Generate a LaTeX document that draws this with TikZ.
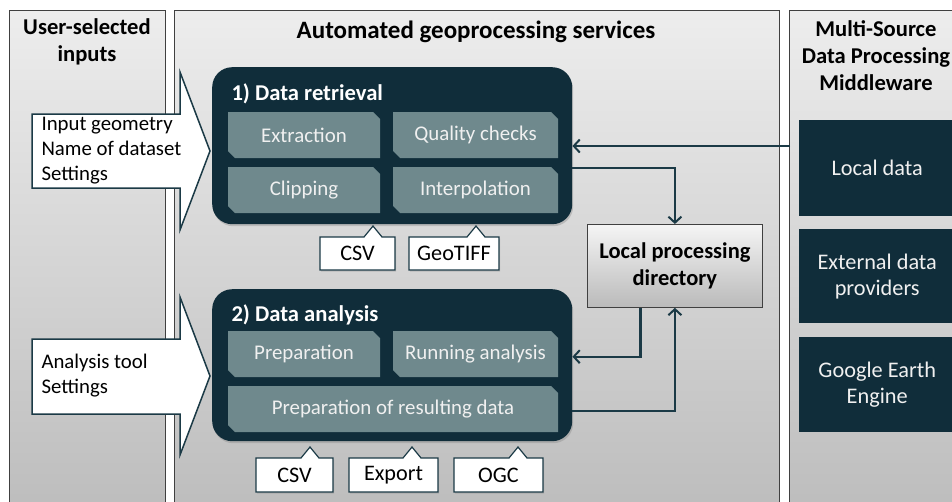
\documentclass[tikz,border=0pt]{standalone}
\usepackage{fontspec}
\setmainfont{Carlito}
\usetikzlibrary{arrows.meta,shadows}
\definecolor{darkblk}{HTML}{102D3A}
\definecolor{subfill}{HTML}{6F898D}
\definecolor{conncol}{HTML}{1B3A46}
\definecolor{framecol}{HTML}{404040}
\newcommand\snipbox[6]{%
  \fill[subfill] (#1,#2) -- ({#3-7},#2) -- (#3,{#2+7}) -- (#3,#4) -- ({#1+7},#4) -- (#1,{#4-7}) -- cycle;
  \node[subtext] (#5) at ({(#1+#3)/2},{(#2+#4)/2}) {#6};}
\newcommand\callout[8]{%
  \filldraw[callbox] (#1,#2) -- ({#5-9},#2) -- (#5,#6) -- ({#5+9},#2) -- (#3,#2) -- (#3,#4) -- (#1,#4) -- cycle;
  \node[calltext] (#7) at ({(#1+#3)/2},{(#2+#4)/2}) {#8};}
\begin{document}
\begin{tikzpicture}[x=1pt,y=-1pt,
  panel/.style={draw=framecol, line width=0.8pt, top color=black!7, bottom color=black!26, anchor=north west, inner sep=0pt},
  header/.style={font=\bfseries\fontsize{22.6}{27}\selectfont, align=center, text=black},
  block/.style={fill=darkblk, rounded corners=20pt, anchor=north west, inner sep=0pt, drop shadow={shadow xshift=1pt, shadow yshift=-2pt, opacity=0.35}},
  blocktitle/.style={font=\bfseries\fontsize{22.6}{26}\selectfont, text=white, anchor=west},
  subtext/.style={font=\fontsize{20.9}{24}\selectfont, text=white!94!black},
  callbox/.style={fill=white, draw=conncol, line width=1.2pt, drop shadow={shadow xshift=1pt, shadow yshift=-1.5pt, opacity=0.3}},
  calltext/.style={font=\fontsize{22.2}{24}\selectfont, text=black},
  bigarrow/.style={fill=white, draw=conncol, line width=1.5pt, line join=miter},
  intext/.style={font=\fontsize{20.8}{25}\selectfont, align=left, anchor=west, text=black},
  lpdbox/.style={draw=framecol, line width=0.8pt, top color=black!4, bottom color=black!27, inner sep=0pt},
  darkbox/.style={fill=darkblk, anchor=north west, inner sep=0pt, text=white!94!black, font=\fontsize{22.3}{26}\selectfont, align=center},
  conn/.style={draw=conncol, line width=2.4pt, -{Straight Barb[length=6pt,width=13pt,line width=2pt]}}
]
\clip (0,0) rectangle (952,501);
\fill[white] (0,0) rectangle (952,501);

% panels
\node[panel, minimum width=156pt, minimum height=502pt] (pleft) at (9,10) {};
\node[panel, minimum width=605pt, minimum height=502pt] (pmid) at (174,10) {};
\node[panel, minimum width=175pt, minimum height=502pt] (pright) at (789,10) {};

\node[header] (hleft) at (87,42) {User-selected\\inputs};
\node[header] (hmid) at (476,32) {\fontsize{25}{27}\selectfont Automated geoprocessing services};
\node[header] (hright) at (876,56) {Multi-Source\\Data Processing\\Middleware};

% right boxes
\node[darkbox, minimum width=156pt, minimum height=96pt] (local) at (799,120) {Local data};
\node[darkbox, minimum width=156pt, minimum height=94pt] (ext) at (799,229) {External data\\providers};
\node[darkbox, minimum width=156pt, minimum height=95pt] (gee) at (799,337) {Google Earth\\Engine};

% blocks
\node[block, minimum width=360pt, minimum height=157pt] (ret) at (212,67) {};
\node[blocktitle] (rettitle) at (228,94) {1) Data retrieval};
\snipbox{228}{112}{380}{158}{extr}{Extraction}
\snipbox{393}{112}{558}{158}{qual}{Quality checks}
\snipbox{228}{167}{380}{213}{clip}{Clipping}
\snipbox{393}{167}{558}{213}{interp}{Interpolation}

\node[block, minimum width=360pt, minimum height=152pt] (ana) at (212,289) {};
\node[blocktitle] (anatitle) at (228,315) {2) Data analysis};
\snipbox{228}{331}{380}{377}{prep}{Preparation}
\snipbox{393}{331}{558}{377}{run}{Running analysis}
\snipbox{228}{386}{558}{432}{result}{Preparation of resulting data}

% callouts
\callout{320}{237}{395}{270}{373}{226}{csva}{CSV}
\callout{409}{237}{499}{270}{476}{226}{geotiff}{GeoTIFF}
\callout{256}{458}{333}{492}{310}{447}{csvb}{CSV}
\callout{349}{458}{438}{492}{412}{447}{export}{Export}
\callout{454}{458}{543}{492}{518}{447}{ogc}{OGC}

% big input arrows
\filldraw[bigarrow] (32,114) -- (180,114) -- (180,72) -- (210,151) -- (180,230) -- (180,188) -- (32,188) -- cycle;
\node[intext] (in1) at (38,151) {Input geometry\\Name of dataset\\Settings};
\filldraw[bigarrow] (32,339) -- (180,339) -- (180,297) -- (210,376) -- (180,455) -- (180,414) -- (32,414) -- cycle;
\node[intext] (in2) at (38,376) {Analysis tool\\Settings};

% local processing directory
\node[lpdbox, minimum width=175pt, minimum height=83pt, anchor=north west, font=\bfseries\fontsize{22.5}{27}\selectfont, align=center] (lpd) at (587,224) {Local processing\\directory};

% connectors
\coordinate (mwedge) at (790,146);
\draw[conn] (mwedge) -- (ret.east |- mwedge);
\draw[conn] ([yshift=-22.5pt]ret.east) -| (lpd.north);
\draw[conn] ([xshift=-34.5pt]lpd.south) |- ([yshift=8.5pt]ana.east);
\draw[conn] ([yshift=-45.5pt]ana.east) -| (lpd.south);
\end{tikzpicture}
\end{document}
